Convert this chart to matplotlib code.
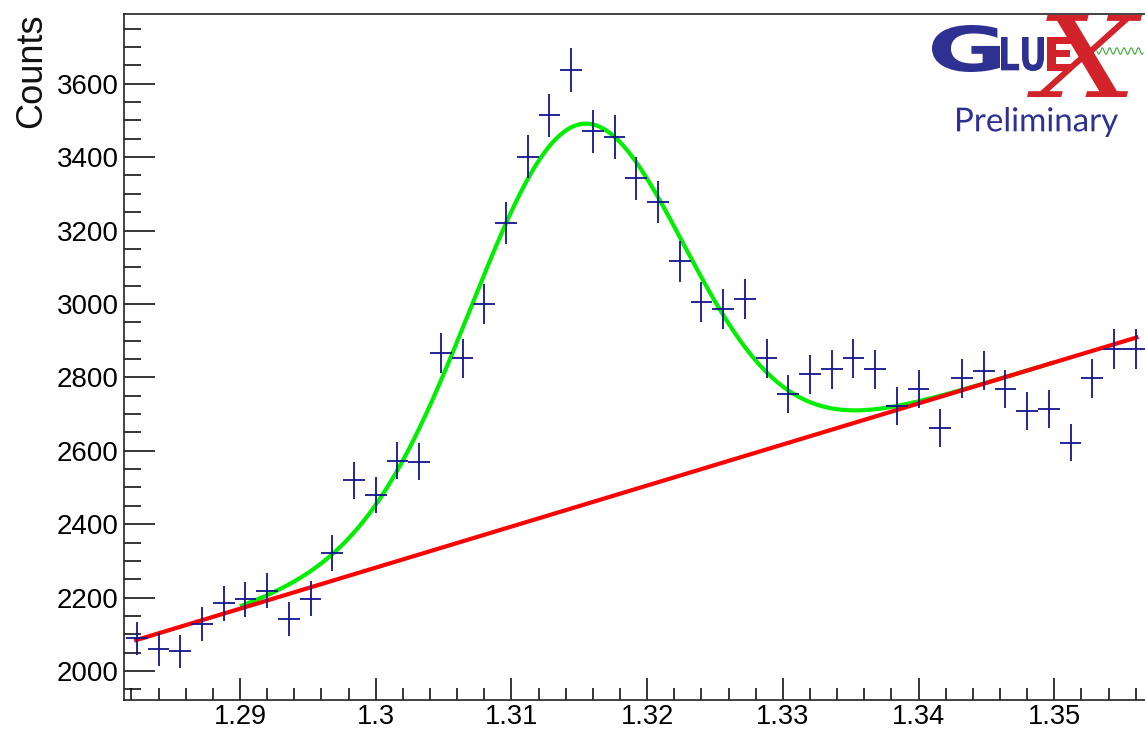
import numpy as np
import matplotlib
matplotlib.use('Agg')
import matplotlib.pyplot as plt
from matplotlib.ticker import MultipleLocator, FuncFormatter
from matplotlib.textpath import TextPath
from matplotlib.patches import PathPatch
from matplotlib.transforms import Affine2D
from matplotlib.font_manager import FontProperties

# histogram bin centres and contents
mass = [1.2824, 1.2840, 1.2856, 1.2872, 1.2888, 1.2904, 1.2920, 1.2936, 1.2952, 1.2968,
        1.2984, 1.3000, 1.3016, 1.3032, 1.3048, 1.3064, 1.3080, 1.3096, 1.3112, 1.3128,
        1.3144, 1.3160, 1.3176, 1.3192, 1.3208, 1.3224, 1.3240, 1.3256, 1.3272, 1.3288,
        1.3304, 1.3320, 1.3336, 1.3352, 1.3368, 1.3384, 1.3400, 1.3416, 1.3432, 1.3448,
        1.3464, 1.3480, 1.3496, 1.3512, 1.3528, 1.3544, 1.3560]
counts = [2089, 2059, 2054, 2127, 2184, 2195, 2219, 2141, 2197, 2322,
          2520, 2480, 2573, 2570, 2866, 2852, 3000, 3220, 3401, 3514,
          3637, 3470, 3455, 3342, 3279, 3117, 3005, 2986, 3014, 2852,
          2755, 2808, 2822, 2852, 2822, 2722, 2768, 2661, 2797, 2818,
          2768, 2709, 2713, 2622, 2797, 2877, 2877]
bin_half = 0.0008

# fit: gaussian + linear background
sig_amp = 1040
sig_mean = 1.31483
sig_width = 0.00781
bkg_p0 = 2169.8      # background at 1.29
bkg_p1 = 11186
fit_range = (1.29, 1.35)
bkg_range = (1.2822, 1.3562)

def bkg(m):
    return bkg_p0 + bkg_p1 * (m - 1.29)

m_fit = np.linspace(*fit_range, 400)
total = bkg(m_fit) + sig_amp * np.exp(-0.5 * ((m_fit - sig_mean) / sig_width) ** 2)
m_bkg = np.linspace(*bkg_range, 50)

W, H = 1145, 731
fig = plt.figure(figsize=(W / 100, H / 100), dpi=100)
ax = fig.add_axes([124 / W, 1 - 700 / H, 1 - 124 / W, 686 / H])

ax.errorbar(mass, counts, xerr=bin_half, yerr=np.sqrt(counts), fmt='none',
            ecolor='#14148f', elinewidth=1.3, capsize=0, zorder=5)
ax.plot(m_fit, total, color='#00ee00', lw=3, solid_capstyle='butt', zorder=3)
ax.plot(m_bkg, bkg(m_bkg), color='#ff0000', lw=3, solid_capstyle='butt', zorder=4)

ax.set_xlim(1.28145, 1.35668)
ax.set_ylim(1921, 3790)

ax.xaxis.set_major_locator(MultipleLocator(0.01))
ax.xaxis.set_minor_locator(MultipleLocator(0.002))
ax.yaxis.set_major_locator(MultipleLocator(200))
ax.yaxis.set_minor_locator(MultipleLocator(50))
ax.xaxis.set_major_formatter(FuncFormatter(lambda v, p: f'{v:g}'))
ax.yaxis.set_major_formatter(FuncFormatter(lambda v, p: f'{v:g}'))

ax.tick_params(axis='y', which='major', direction='in', length=22, width=1.1, pad=4,
               labelsize=20)
ax.tick_params(axis='y', which='minor', direction='in', length=12, width=1.1)
ax.tick_params(axis='x', which='major', direction='in', length=15.5, width=1.1, pad=3,
               labelsize=19.5)
ax.tick_params(axis='x', which='minor', direction='in', length=8.4, width=1.1)
for lab in ax.get_xticklabels() + ax.get_yticklabels():
    lab.set_family('Liberation Sans')
ax.spines['right'].set_visible(False)
for s in ['left', 'bottom', 'top']:
    ax.spines[s].set_linewidth(1.2)
    ax.spines[s].set_color('#222222')

fig.text(32 / W, 1 - 13 / H, 'Counts', rotation=90, ha='center', va='top',
         fontsize=26, family='Liberation Sans', color='#111111')

# GlueX logo, pixel coords overlay
ov = fig.add_axes([0, 0, 1, 1])
ov.set_xlim(0, W)
ov.set_ylim(H, 0)
ov.axis('off')
ov.patch.set_visible(False)

navy = '#2e3192'
red = '#d2232a'

def glyph(s, box, color, prop):
    tp = TextPath((0, 0), s, size=100, prop=prop)
    bb = tp.get_extents()
    x0, y0, x1, y1 = box
    tr = (Affine2D().translate(-bb.x0, -bb.y0)
          .scale((x1 - x0) / bb.width, -(y1 - y0) / bb.height)
          .translate(x0, y1))
    ov.add_patch(PathPatch(tr.transform_path(tp), facecolor=color, lw=0))

bold = FontProperties(family='DejaVu Sans', weight='bold')
glyph('G', (932, 25, 1000, 72), navy, bold)
glyph('LU', (1001, 37, 1044, 71), navy, bold)
glyph('X', (1027, 15, 1142, 97), red, FontProperties(family='DejaVu Serif', style='italic'))
glyph('E', (1047, 37, 1071, 71), red, bold)
wx = np.linspace(1097, 1143, 200)
ov.plot(wx, 51 + 3.2 * np.sin(2 * np.pi * (wx - 1097) / 7.2), color='#3aaa35', lw=0.8)
glyph('Preliminary', (957, 107, 1118, 137), navy, FontProperties(family='Lato'))

fig.savefig('out.png', dpi=100)
